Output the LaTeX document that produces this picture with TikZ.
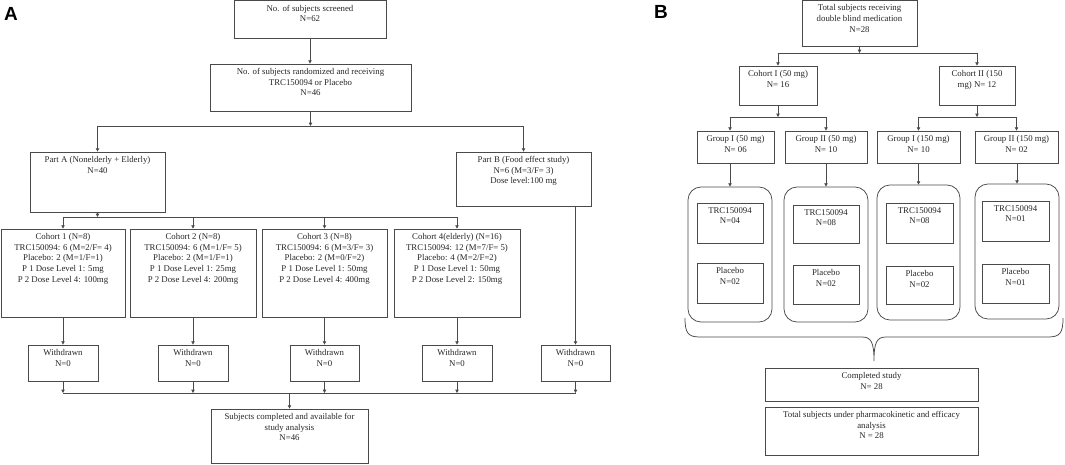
\documentclass[tikz,border=0pt]{standalone}
\usepackage{fontspec}
\setmainfont{Liberation Serif}
\newfontfamily\labfont{Liberation Sans}
\usetikzlibrary{arrows.meta,fit,positioning}
\definecolor{ln}{HTML}{4A4A4A}
\definecolor{tx}{HTML}{262626}
\tikzset{
  box/.style={draw=ln, line width=0.75pt, inner sep=0pt, fill=none},
  rbox/.style={box, rounded corners=13pt},
  txt/.style={text=tx, align=center, inner sep=0pt, font=\fontsize{8.8}{10.7}\selectfont},
  line/.style={draw=ln, line width=0.75pt},
  arr/.style={line, -{Triangle[length=3.3pt,width=3.3pt]}},
  panel/.style={font=\labfont\bfseries\fontsize{19}{19}\selectfont, inner sep=0pt, text=black}
}
\newcommand{\mybox}[7][box]{%
  \node[#1, fit={(#3,#4)(#5,#6)}] (#2) {};
  \node[txt, anchor=north] (#2-t) at ([yshift=-4.5pt]#2.north) {#7};
}
\begin{document}
\begin{tikzpicture}[x=1pt,y=-1pt]
\useasboundingbox (0,0) rectangle (1065,464);
% panel labels
\node[panel] (labA) at (11,14) {A};
\node[panel] (labB) at (661,12) {B};
% ---------- Panel A ----------
\mybox{scr}{234}{0.5}{386}{38}{No. of subjects screened\\N=62}
\mybox{rand}{210}{64}{411}{111}{No. of subjects randomized and receiving\\TRC150094 or Placebo\\N=46}
\mybox{pa}{30}{152}{165}{212}{Part A (Nonelderly + Elderly)\\N=40}
\mybox{pb}{456}{152}{591}{206}{Part B (Food effect study)\\N=6 (M=3/F= 3)\\Dose level:100 mg}
\mybox{c1}{1}{229}{125}{317}{Cohort 1 (N=8)\\TRC150094: 6 (M=2/F= 4)\\Placebo: 2 (M=1/F=1)\\P 1 Dose Level 1: 5mg\\P 2 Dose Level 4: 100mg}
\mybox{c2}{130}{229}{256}{317}{Cohort 2 (N=8)\\TRC150094: 6 (M=1/F= 5)\\Placebo: 2 (M=1/F=1)\\P 1 Dose Level 1: 25mg\\P 2 Dose Level 4: 200mg}
\mybox{c3}{262}{229}{387}{317}{Cohort 3 (N=8)\\TRC150094: 6 (M=3/F= 3)\\Placebo: 2 (M=0/F=2)\\P 1 Dose Level 1: 50mg\\P 2 Dose Level 4: 400mg}
\mybox{c4}{394}{229}{520}{317}{Cohort 4(elderly) (N=16)\\TRC150094: 12 (M=7/F= 5)\\Placebo: 4 (M=2/F=2)\\P 1 Dose Level 1: 50mg\\P 2 Dose Level 2: 150mg}
\mybox{w1}{28}{345}{98}{381}{Withdrawn\\N=0}
\mybox{w2}{158}{345}{228}{381}{Withdrawn\\N=0}
\mybox{w3}{290}{345}{359}{381}{Withdrawn\\N=0}
\mybox{w4}{422}{345}{492}{381}{Withdrawn\\N=0}
\mybox{w5}{541}{345}{610}{381}{Withdrawn\\N=0}
\mybox{fin}{211}{409}{368}{463}{Subjects completed and available for\\study analysis\\N=46}
\coordinate (h1) at (0,126);
\coordinate (h2) at (0,217);
\coordinate (h3) at (0,393);
\draw[arr] (scr.south) -- (scr.south |- rand.north);
\draw[arr] (rand.south) -- (rand.south |- h1);
\draw[arr] (rand.south |- h1) -| (pa.north);
\draw[arr] (rand.south |- h1) -| (pb.north);
\draw[arr] (pa.south) -- (pa.south |- h2);
\draw[line] (c1.north |- h2) -- (c4.north |- h2);
\foreach \c in {c1,c2,c3,c4}{\draw[arr] (\c.north |- h2) -- (\c.north);}
\draw[arr] (w1.north |- c1.south) -- (w1.north);
\draw[arr] (w2.north |- c2.south) -- (w2.north);
\draw[arr] (w3.north |- c3.south) -- (w3.north);
\draw[arr] (w4.north |- c4.south) -- (w4.north);
\draw[arr] (w5.north |- pb.south) -- (w5.north);
\foreach \w in {w1,w2,w3,w4,w5}{\draw[arr] (\w.south) -- (\w.south |- h3);}
\draw[line] (w1.south |- h3) -- (w5.south |- h3);
\draw[arr] (fin.north |- h3) -- (fin.north);
% ---------- Panel B ----------
\mybox{tot}{802}{0.5}{917}{46}{Total subjects receiving\\double blind medication\\N=28}
\mybox{ci}{739}{66}{817}{105}{Cohort I (50 mg)\\N= 16}
\mybox{cii}{939}{66}{1015}{105}{Cohort II (150\\mg) N= 12}
\mybox{g1}{697}{131}{774}{163}{Group I (50 mg)\\N= 06}
\mybox{g2}{785}{131}{867}{163}{Group II (50 mg)\\N= 10}
\mybox{g3}{877}{131}{960}{163}{Group I (150 mg)\\N= 10}
\mybox{g4}{975}{131}{1058}{163}{Group II (150 mg)\\N= 02}
\node[rbox, fit={(688,187)(772,322)}] (r1) {};
\node[rbox, fit={(784,187)(868,322)}] (r2) {};
\node[rbox, fit={(877,185)(960,320)}] (r3) {};
\node[rbox, fit={(975,184)(1059,319)}] (r4) {};
\mybox{t1}{697}{203}{763}{243}{TRC150094\\N=04}
\mybox{p1}{697}{263}{763}{303}{Placebo\\N=02}
\mybox{t2}{793}{205}{859}{243}{TRC150094\\N=08}
\mybox{p2}{793}{265}{859}{304}{Placebo\\N=02}
\mybox{t3}{886}{203}{953}{243}{TRC150094\\N=08}
\mybox{p3}{886}{266}{953}{304}{Placebo\\N=02}
\mybox{t4}{982}{201}{1049}{241}{TRC150094\\N=01}
\mybox{p4}{982}{264}{1049}{303}{Placebo\\N=01}
\mybox{comp}{765}{368}{978}{401}{Completed study\\N= 28}
\mybox{pk}{765}{407}{978}{455}{Total subjects under pharmacokinetic and efficacy\\analysis\\N = 28}
\coordinate (h4) at (0,53);
\coordinate (h5) at (0,117);
\draw[arr] (tot.south) -- (tot.south |- h4);
\draw[line] (ci.north |- h4) -- (cii.north |- h4);
\draw[arr] (ci.north |- h4) -- (ci.north);
\draw[arr] (cii.north |- h4) -- (cii.north);
\draw[arr] (ci.south) -- (ci.south |- h5);
\draw[line] (r1.north |- h5) -- (g2.north |- h5);
\draw[arr] (r1.north |- h5) -- (r1.north |- g1.north);
\draw[arr] (g2.north |- h5) -- (g2.north);
\draw[arr] (cii.south) -- (cii.south |- h5);
\draw[line] (g3.north |- h5) -- (g4.north |- h5);
\draw[arr] (g3.north |- h5) -- (g3.north);
\draw[arr] (g4.north |- h5) -- (g4.north);
\draw[arr] (r1.north |- g1.south) -- (r1.north);
\draw[arr] (r2.north |- g2.south) -- (r2.north);
\draw[arr] (r3.north |- g3.south) -- (r3.north);
\draw[arr] (r4.north |- g4.south) -- (r4.north);
% brace
\draw[line] (685,318) .. controls (685,333) and (688,337) .. (700,337) -- (862,337)
  .. controls (871,337) and (874,342) .. (874,361)
  .. controls (874,342) and (877,337) .. (886,337) -- (1048,337)
  .. controls (1060,337) and (1063,333) .. (1063,318);
\end{tikzpicture}
\end{document}
